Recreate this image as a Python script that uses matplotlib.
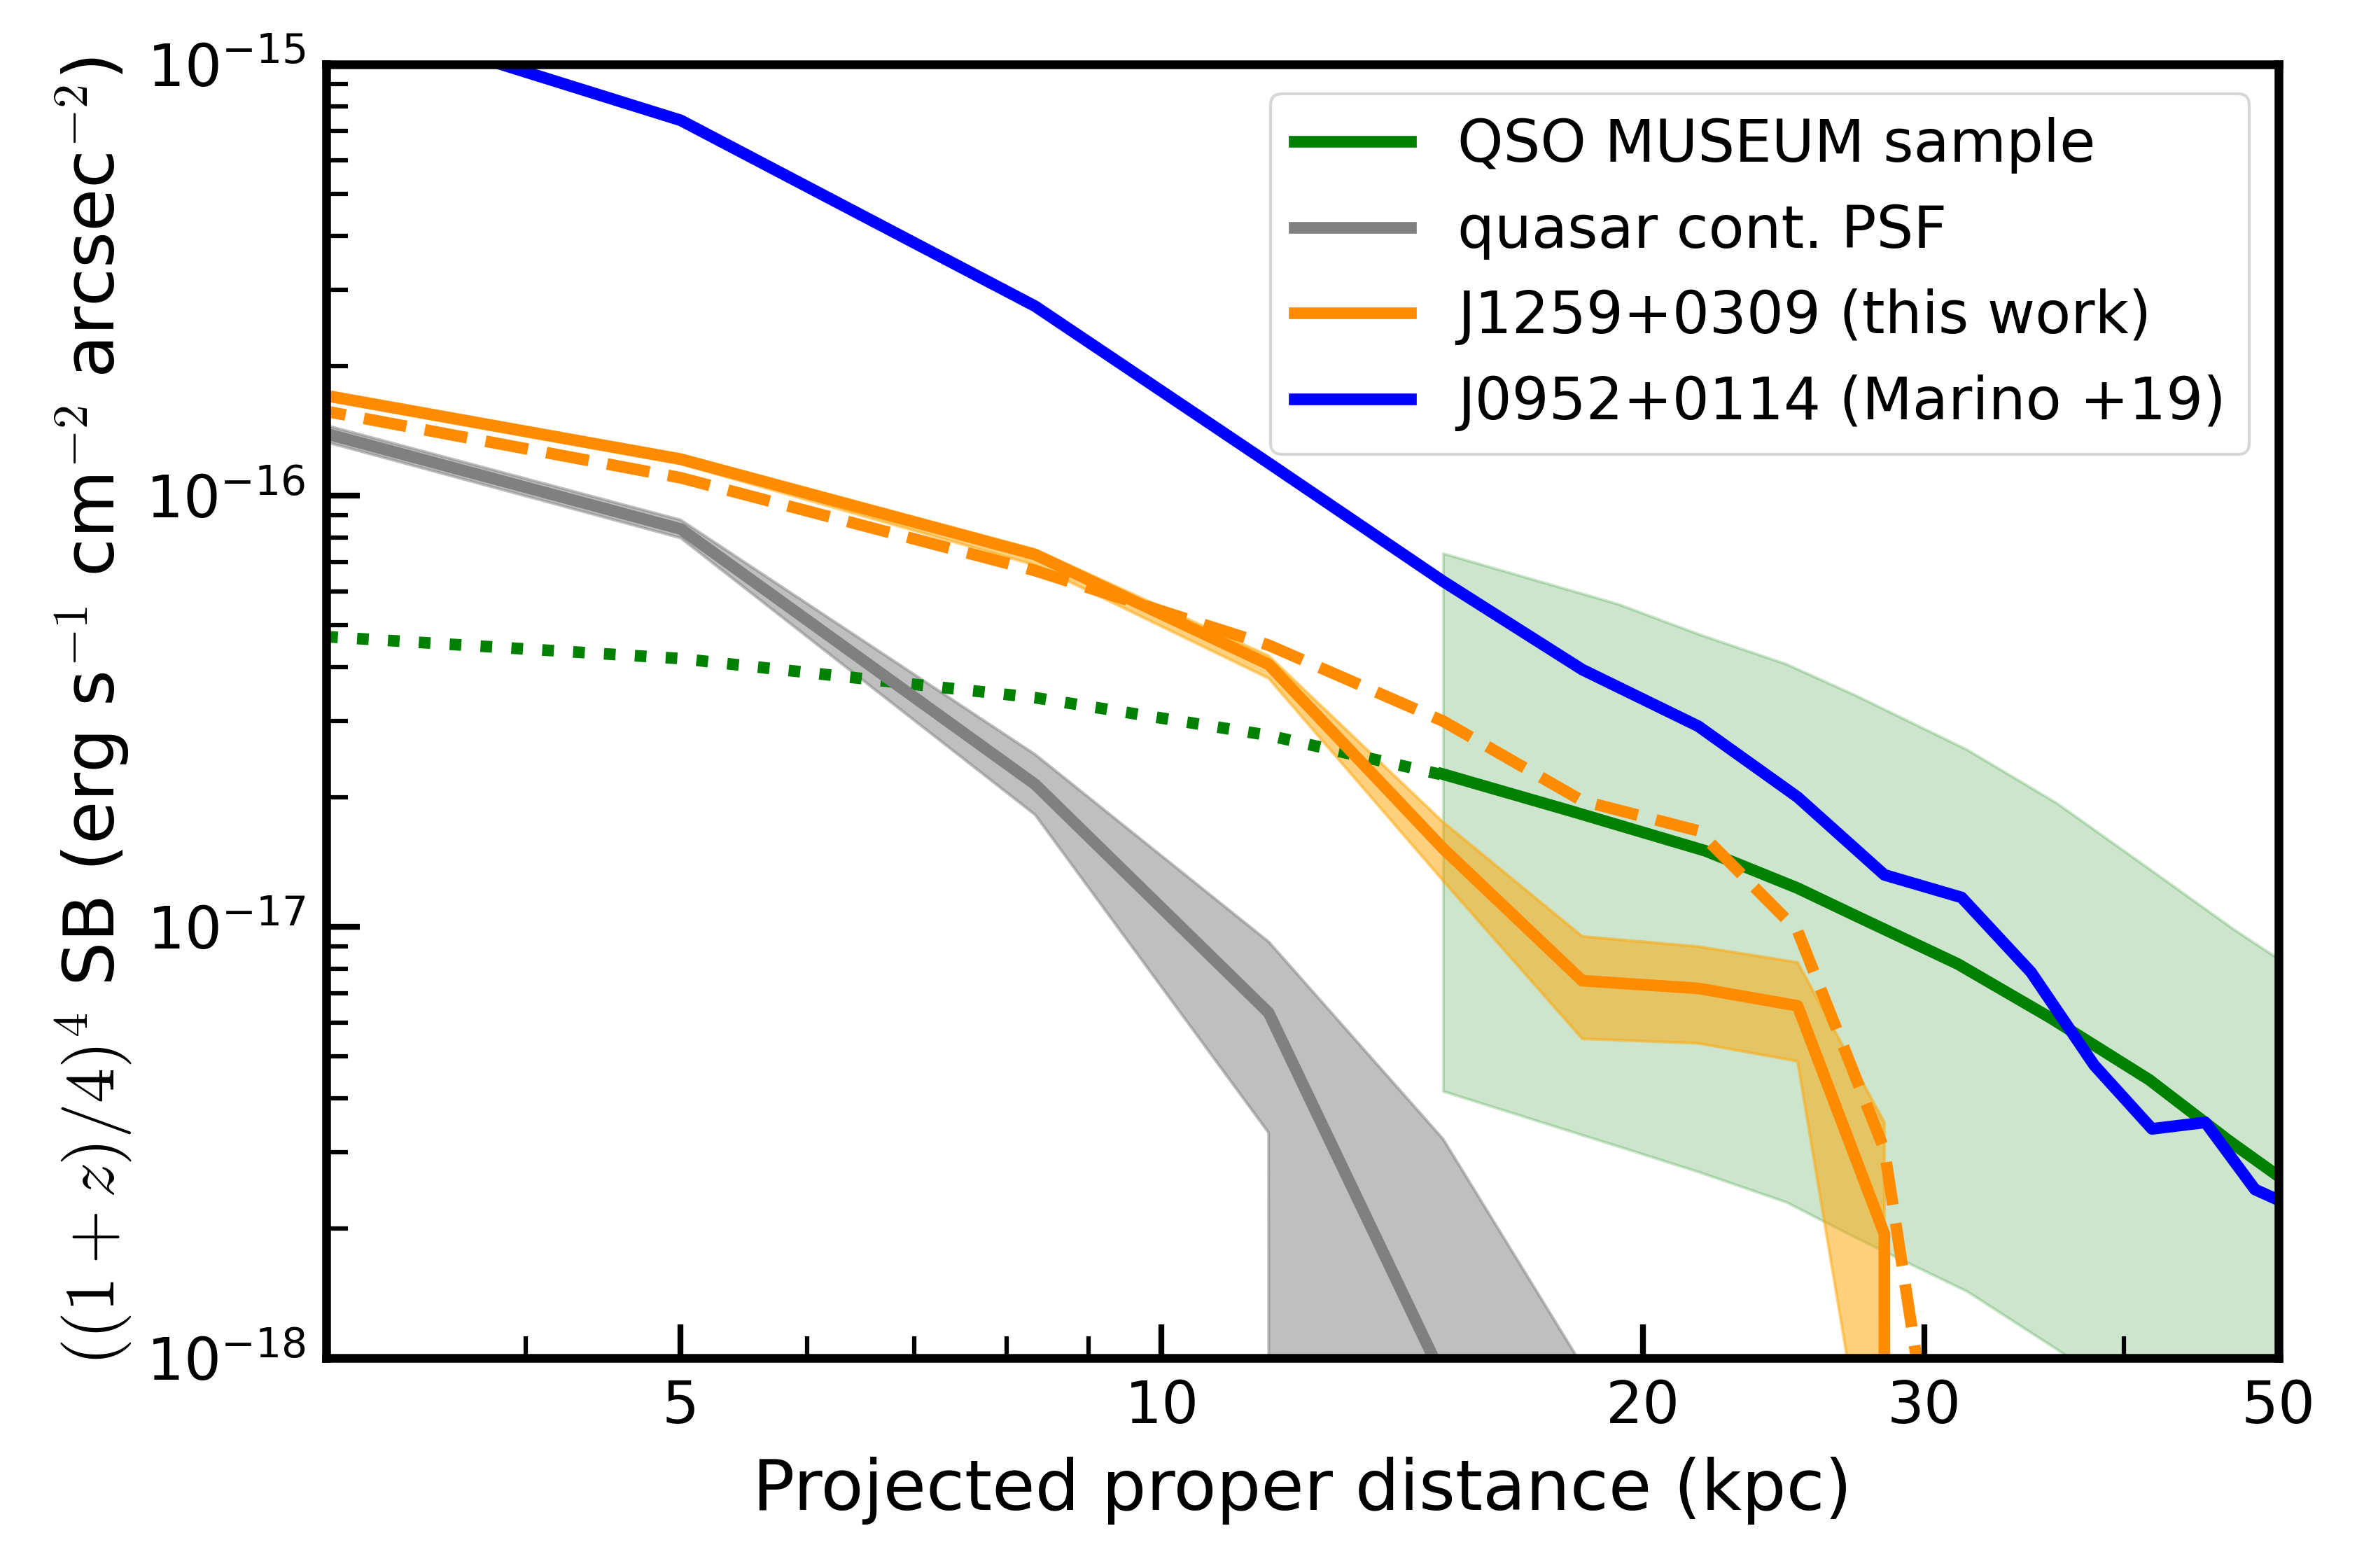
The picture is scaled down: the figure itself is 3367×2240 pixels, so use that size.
import numpy as np
import matplotlib
matplotlib.use("Agg")
import matplotlib.pyplot as plt
from matplotlib.ticker import FixedLocator, ScalarFormatter, NullFormatter, LogLocator

plt.rcParams['font.family'] = ['DejaVu Sans']
plt.rcParams['mathtext.fontset'] = 'cm'

# ---------------- data ----------------
# radial bins (kpc)
r_bins = [1.667, 5.0, 8.333, 11.667, 15.0, 18.333, 21.667, 25.0, 28.333, 31.667]

# J1259+0309 (this work)
sb_j1259 = [2.52e-16, 1.215e-16, 7.3e-17, 4.06e-17, 1.52e-17, 7.5e-18, 7.2e-18, 6.56e-18, 1.94e-18, 0.0]
sb_j1259_hi = [2.58e-16, 1.245e-16, 7.5e-17, 4.25e-17, 1.75e-17, 9.5e-18, 9.0e-18, 8.27e-18, 3.52e-18, 0.0]
sb_j1259_lo = [2.46e-16, 1.185e-16, 6.9e-17, 3.77e-17, 1.28e-17, 5.5e-18, 5.37e-18, 4.88e-18, 3.05e-19, 0.0]
sb_j1259_dashed = [2.36e-16, 1.10e-16, 6.7e-17, 4.5e-17, 3.0e-17, 1.96e-17, 1.67e-17, 9.8e-18, 3.04e-18, 2.1e-19]

# quasar continuum PSF
r_psf = [1.667, 5.0, 8.333, 11.667, 15.0, 18.333]
sb_psf = [2.5e-16, 8.37e-17, 2.14e-17, 6.32e-18, 9.0e-19, 0.0]
sb_psf_hi = [2.6e-16, 8.78e-17, 2.51e-17, 9.23e-18, 3.22e-18, 9.6e-19]
sb_psf_lo = [2.4e-16, 7.98e-17, 1.82e-17, 3.33e-18, 0.0, 0.0]

# J0952+0114 (Marino +19)
r_j0952 = [1.667, 5.0, 8.333, 11.667, 15.0, 18.333, 21.667, 25.0, 28.333, 31.667,
           35.0, 38.333, 41.667, 45.0, 48.333, 51.667]
sb_j0952 = [2.64e-15, 7.42e-16, 2.75e-16, 1.19e-16, 6.33e-17, 3.95e-17, 2.92e-17, 2.0e-17,
            1.32e-17, 1.17e-17, 7.85e-18, 4.78e-18, 3.4e-18, 3.52e-18, 2.46e-18, 2.2e-18]

# QSO MUSEUM average profile
r_qm_in = [3.0, 5.0, 8.333, 11.667, 15.0]
sb_qm_in = [4.71e-17, 4.19e-17, 3.40e-17, 2.78e-17, 2.25e-17]
r_qm = [15.0, 18.0, 21.9, 25.0, 27.2, 31.5, 36.0, 41.5, 46.5, 50.0]
sb_qm = [2.26e-17, 1.86e-17, 1.50e-17, 1.23e-17, 1.06e-17, 8.2e-18, 6.15e-18, 4.42e-18, 3.2e-18, 2.64e-18]
r_qm_band = [15.0, 19.3, 21.7, 24.6, 27.2, 31.9, 36.3, 41.2, 46.9, 50.0]
sb_qm_hi = [7.35e-17, 5.61e-17, 4.77e-17, 4.07e-17, 3.44e-17, 2.58e-17, 1.94e-17, 1.39e-17, 9.86e-18, 8.43e-18]
sb_qm_lo = [4.16e-18, 3.1e-18, 2.7e-18, 2.3e-18, 1.9e-18, 1.43e-18, 1.05e-18, 7.7e-19, 5.5e-19, 4.7e-19]

x_ticks = [5, 10, 20, 30, 50]

# ---------------- figure ----------------
fig = plt.figure(figsize=(3367 / 300, 2240 / 300), dpi=300)
ax = fig.add_axes([0.1384, 0.1339, 0.8283, 0.825])
ax.set_xscale('log')
ax.set_yscale('log')

lw = 4
ax.fill_between(r_qm_band, sb_qm_lo, sb_qm_hi, color='green', alpha=0.2)
ax.plot(r_qm_in, sb_qm_in, color='green', lw=lw, ls=':')
l_qm, = ax.plot(r_qm, sb_qm, color='green', lw=lw, label='QSO MUSEUM sample')

ax.fill_between(r_psf, sb_psf_lo, sb_psf_hi, color='gray', alpha=0.5)
l_psf, = ax.plot(r_psf, sb_psf, color='gray', lw=lw, label='quasar cont. PSF')

ax.fill_between(r_bins, sb_j1259_lo, sb_j1259_hi, color='orange', alpha=0.5)
l_j1259, = ax.plot(r_bins, sb_j1259, color='darkorange', lw=lw, label='J1259+0309 (this work)')
ax.plot(r_bins, sb_j1259_dashed, color='darkorange', lw=lw, ls='--')

l_j0952, = ax.plot(r_j0952, sb_j0952, color='blue', lw=lw, label='J0952+0114 (Marino +19)')

ax.set_xlim(3, 50)
ax.set_ylim(1e-18, 1e-15)

ax.xaxis.set_major_locator(FixedLocator(x_ticks))
ax.xaxis.set_major_formatter(ScalarFormatter())
ax.xaxis.set_minor_locator(LogLocator(base=10, subs=np.arange(2, 10)))
ax.xaxis.set_minor_formatter(NullFormatter())

ax.tick_params(which='major', direction='in', length=11.5, width=2, labelsize=20, pad=7)
ax.tick_params(which='minor', direction='in', length=7.5, width=1.5)
ax.tick_params(top=False, right=False)
for s in ax.spines.values():
    s.set_linewidth(3)

ax.set_xlabel('Projected proper distance (kpc)', fontsize=24, labelpad=7.5)
ax.set_ylabel(r'$((1+z)/4)^4$ SB (erg s$^{-1}$ cm$^{-2}$ arcsec$^{-2}$)', fontsize=24)

ax.legend(handles=[l_qm, l_psf, l_j1259, l_j0952], loc='upper right', fontsize=20)

fig.savefig('out.png', dpi=300)
